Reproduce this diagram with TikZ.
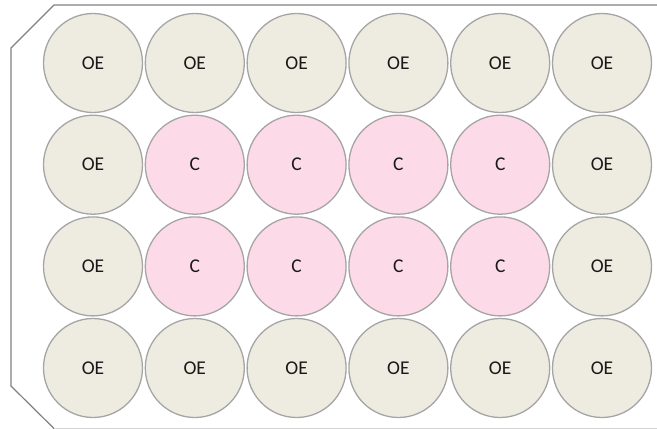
\documentclass[tikz,border=0pt]{standalone}
\usepackage{fontspec}
\setmainfont{Carlito}
\usetikzlibrary{positioning}

\definecolor{wellbeige}{HTML}{EEECE1}
\definecolor{wellpink}{HTML}{FDDAE8}
\definecolor{wellrim}{HTML}{A5A5A5}
\definecolor{platerim}{HTML}{808080}

\begin{document}
\begin{tikzpicture}[
    x=1pt, y=-1pt,
    every node/.style={font=\fontsize{19.5}{21}\selectfont, text=black!90},
    well/.style={circle, draw=wellrim, line width=1.3pt, inner sep=0pt,
                 minimum size=99pt},
    oe/.style={well, fill=wellbeige},
    ctrl/.style={well, fill=wellpink}
  ]
  \useasboundingbox (0,0) rectangle (657,429);
  % plate outline
  \draw[platerim, line width=1.2pt]
    (660,5) -- (54,5) -- (11,48) -- (11,386) -- (54,428.5);
  \draw[platerim!35, line width=1pt] (54,428.5) -- (660,428.5);

  % outer ring of wells
  \foreach \c in {1,...,6} {
    \node[oe] (w-1-\c) at ({93+101.8*(\c-1)},63) {OE};
    \node[oe] (w-4-\c) at ({93+101.8*(\c-1)},368) {OE};
  }
  \foreach \r in {2,3} {
    \node[oe] (w-\r-1) at (93,{63+101.7*(\r-1)}) {OE};
    \node[oe] (w-\r-6) at (602,{63+101.7*(\r-1)}) {OE};
    \foreach \c in {2,...,5}
      \node[ctrl] (w-\r-\c) at ({93+101.8*(\c-1)},{63+101.7*(\r-1)}) {C};
  }
\end{tikzpicture}
\end{document}
